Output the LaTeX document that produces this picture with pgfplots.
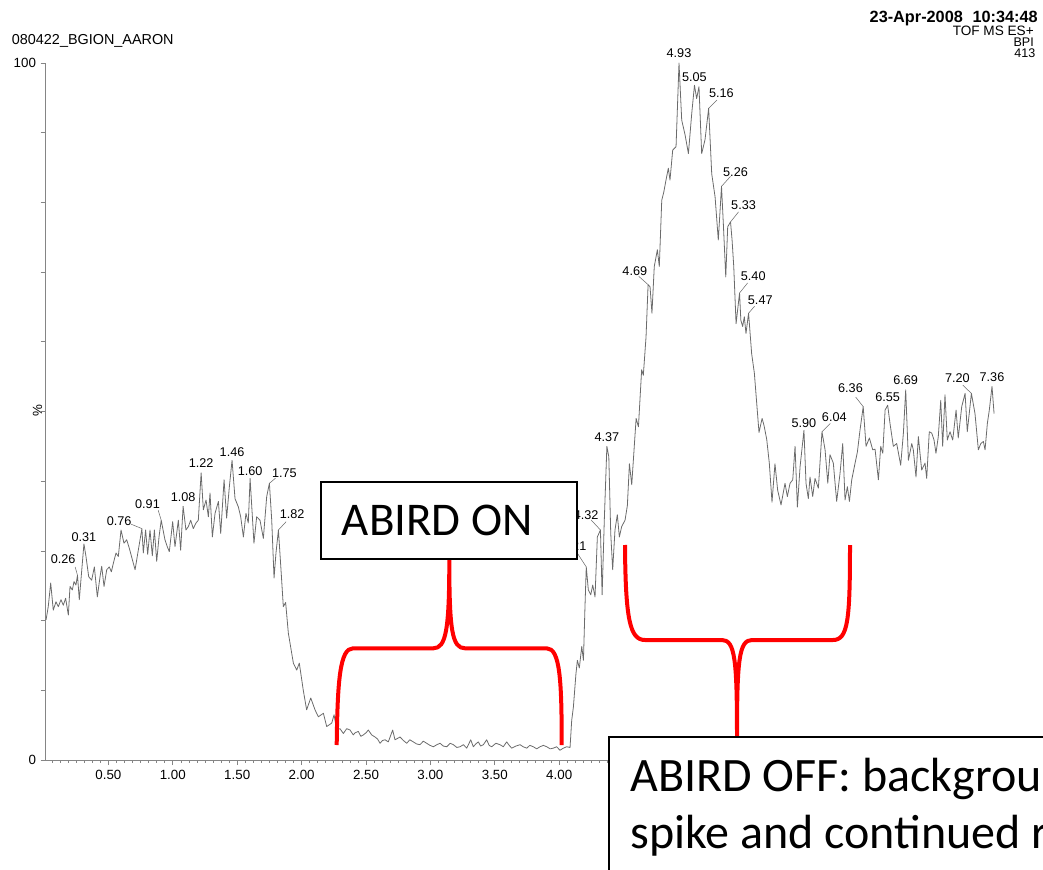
\documentclass[border=0pt]{standalone}
\usepackage{fontspec}
\setmainfont{Liberation Sans}
\newfontfamily\calibri{Carlito}
\usepackage{pgfplots}
\usepackage{pgfplotstable}
\pgfplotsset{compat=1.18}

\definecolor{trace}{gray}{0.42}
\definecolor{axisgray}{gray}{0.52}

% Base peak intensity chromatogram: retention time (min), relative intensity (%)
\pgfplotstableread{
t v
0.016 20.1
0.033 22.0
0.052 25.4
0.072 21.5
0.093 22.7
0.111 22.0
0.132 23.0
0.150 22.2
0.168 23.2
0.189 20.8
0.202 24.9
0.220 24.4
0.233 25.6
0.248 25.1
0.26 26.5
0.274 23.0
0.292 27.0
0.31 31.0
0.326 29.2
0.347 26.3
0.370 25.8
0.391 27.7
0.414 23.4
0.435 26.3
0.448 27.8
0.466 24.9
0.487 27.3
0.507 27.7
0.523 27.0
0.538 28.2
0.559 29.7
0.577 29.2
0.598 33.0
0.621 31.1
0.642 31.6
0.662 30.4
0.707 27.3
0.76 33.2
0.771 29.7
0.789 33.0
0.805 29.5
0.823 33.0
0.841 29.3
0.857 33.0
0.875 28.5
0.893 32.0
0.91 34.4
0.939 31.6
0.957 30.6
0.973 29.9
0.999 34.2
1.017 30.6
1.043 34.4
1.061 30.1
1.08 36.4
1.102 33.0
1.121 33.5
1.139 34.4
1.159 33.2
1.180 34.0
1.198 34.4
1.22 41.2
1.237 35.9
1.258 37.3
1.276 34.9
1.289 38.3
1.307 32.0
1.328 35.4
1.354 37.1
1.372 32.5
1.398 40.2
1.418 34.7
1.439 39.2
1.46 43.0
1.483 37.5
1.509 36.3
1.527 34.9
1.548 32.0
1.568 35.4
1.586 34.0
1.60 40.4
1.630 31.1
1.651 34.9
1.677 34.4
1.703 31.8
1.729 37.8
1.75 39.7
1.768 34.4
1.786 26.1
1.801 29.7
1.82 33.0
1.840 27.3
1.858 22.0
1.876 22.6
1.897 18.2
1.936 13.9
1.962 12.9
1.982 13.9
2.013 10.0
2.039 7.2
2.071 8.9
2.104 7.2
2.130 6.2
2.169 6.7
2.195 4.8
2.234 5.3
2.252 6.5
2.272 4.3
2.298 4.5
2.324 3.8
2.350 4.5
2.376 4.3
2.401 3.6
2.415 3.9
2.440 4.1
2.460 3.4
2.479 3.6
2.500 3.9
2.518 4.3
2.544 3.6
2.570 3.3
2.590 3.0
2.609 2.4
2.628 2.8
2.648 2.9
2.673 2.6
2.707 4.3
2.725 2.9
2.745 3.1
2.764 3.3
2.790 2.8
2.816 2.4
2.840 2.9
2.867 2.6
2.893 2.3
2.919 2.2
2.945 2.7
2.971 2.4
2.997 2.1
3.023 1.9
3.050 2.2
3.075 2.4
3.100 2.0
3.127 1.9
3.153 2.4
3.178 2.2
3.205 1.8
3.230 1.9
3.256 2.2
3.282 1.7
3.313 2.9
3.333 1.9
3.352 2.3
3.372 2.6
3.390 2.0
3.411 2.2
3.437 2.9
3.456 2.1
3.476 1.9
3.508 2.4
3.540 2.2
3.566 1.9
3.592 2.6
3.612 2.1
3.631 1.7
3.664 2.0
3.696 2.2
3.720 1.9
3.748 1.7
3.772 2.1
3.799 1.9
3.825 1.6
3.851 1.9
3.877 2.1
3.903 1.9
3.930 1.6
3.954 1.7
3.980 1.9
4.006 1.4
4.032 1.7
4.058 1.9
4.084 1.8
4.097 5.7
4.110 7.6
4.130 12.4
4.141 14.3
4.156 13.2
4.175 16.3
4.188 14.3
4.200 22.0
4.21 27.7
4.226 24.4
4.245 23.7
4.260 25.1
4.278 23.4
4.296 32.0
4.32 33.0
4.333 23.7
4.350 34.4
4.37 45.0
4.385 43.5
4.400 32.5
4.415 27.3
4.433 33.0
4.451 35.2
4.467 32.0
4.485 33.5
4.511 34.4
4.529 36.5
4.545 42.5
4.563 39.5
4.597 49.0
4.615 47.8
4.640 56.0
4.653 55.2
4.674 60.7
4.69 68.2
4.705 67.9
4.720 64.1
4.738 70.8
4.762 73.2
4.777 70.8
4.796 80.3
4.812 81.5
4.829 83.2
4.847 84.9
4.860 83.2
4.881 87.5
4.907 88.0
4.93 100.0
4.951 91.8
4.977 89.7
5.003 87.0
5.029 92.8
5.05 96.8
5.067 94.9
5.085 96.6
5.106 87.0
5.132 89.0
5.16 93.5
5.184 84.1
5.210 80.8
5.235 74.6
5.26 82.3
5.274 77.0
5.293 69.3
5.308 76.5
5.33 77.2
5.342 74.6
5.355 70.8
5.373 62.6
5.40 67.0
5.410 63.1
5.424 62.2
5.437 63.6
5.450 61.2
5.47 64.1
5.494 58.3
5.515 55.5
5.551 47.0
5.575 49.0
5.590 48.0
5.611 46.0
5.631 42.6
5.652 37.0
5.675 42.5
5.696 38.7
5.722 36.6
5.753 39.7
5.771 37.8
5.792 39.7
5.813 40.2
5.831 45.0
5.849 36.3
5.870 42.1
5.90 47.3
5.916 39.7
5.934 37.5
5.947 40.6
5.968 37.8
5.986 40.4
6.012 39.0
6.04 47.1
6.064 44.5
6.085 39.7
6.102 43.8
6.128 42.6
6.154 37.1
6.180 41.1
6.201 45.4
6.219 37.3
6.237 39.2
6.253 37.1
6.271 40.2
6.297 42.6
6.315 44.2
6.335 47.3
6.36 50.7
6.382 45.0
6.408 46.2
6.434 44.5
6.452 44.6
6.478 40.2
6.496 45.0
6.512 44.0
6.530 50.2
6.55 50.9
6.568 48.3
6.594 45.0
6.620 45.4
6.651 42.3
6.672 46.9
6.69 53.1
6.711 43.0
6.737 45.4
6.749 44.5
6.770 40.6
6.788 46.4
6.814 41.6
6.840 42.6
6.853 40.4
6.873 47.1
6.892 46.9
6.910 45.9
6.925 44.0
6.943 46.4
6.962 51.6
6.977 45.0
6.995 52.4
7.013 45.9
7.034 47.1
7.055 45.9
7.081 50.2
7.098 46.2
7.125 50.7
7.151 52.6
7.168 47.1
7.189 50.7
7.20 52.6
7.228 49.7
7.254 44.5
7.273 45.4
7.293 45.7
7.306 44.5
7.324 48.3
7.339 50.2
7.36 53.6
7.376 49.7
}\bpi

\tikzset{peaklab/.style={font=\fontsize{9.5}{10}\selectfont, inner sep=0pt, text=black}}
% peak label with a short leader: time, intensity, leader dx, dy, label dx, dy (px, y up)
\newcommand{\pkside}[6]{%
  \draw[trace, line width=0.4pt] (axis cs:#1,#2) -- ++(#3*0.75pt,#4*0.75pt);
  \node[peaklab, xshift=#5*0.75pt, yshift=#6*0.75pt] at (axis cs:#1,#2) {#1};}
% peak label straight above the apex
\newcommand{\pktop}[3]{%
  \node[peaklab, yshift=#3*0.75pt] at (axis cs:#1,#2) {#1};}

\begin{document}
\begin{tikzpicture}
\useasboundingbox (0,0) rectangle (782.25pt,651.75pt);
\clip (0,0) rectangle (782.25pt,651.75pt);
\begin{axis}[
  at={(34.275pt,81.75pt)}, anchor=south west,
  scale only axis, width=747.975pt, height=522.75pt,
  xmin=0.0132, xmax=7.756, ymin=0, ymax=100,
  axis x line*=bottom, axis y line*=left,
  axis line style={axisgray, line width=0.6pt},
  tick style={axisgray, line width=0.5pt},
  tick align=outside,
  major tick length=3.75pt, minor tick length=2.2pt,
  xtick={0,0.5,...,7.5}, minor x tick num=7,
  % times past 4.00 sit under the lower call-out box
  xticklabel={\ifdim\tick pt>4.2pt\relax\else\pgfmathprintnumber[fixed, fixed zerofill, precision=2]{\tick}\fi},
  ytick={0,10,...,100}, yticklabels={0,,,,,,,,,,100},
  tick label style={font=\fontsize{10}{12}\selectfont, text=black},
  /pgf/number format/assume math mode=true,
  clip=false,
]
\addplot[trace, line width=0.6pt, mark=none, line join=round] table[x=t, y=v] {\bpi};

\pkside{0.26}{26.5}{-2.3}{8.3}{-14.3}{16}
\pktop{0.31}{31.0}{7}
\pkside{0.76}{33.2}{-11}{4.5}{-22.7}{7.3}
\pkside{0.91}{34.4}{-3}{10}{-13.7}{16}
\pktop{1.08}{36.4}{9}
\pktop{1.22}{41.2}{10}
\pktop{1.46}{43.0}{8}
\pktop{1.60}{40.4}{7}
\pkside{1.75}{39.7}{6}{5}{15}{10}
\pkside{1.82}{33.0}{7.7}{8.3}{13.7}{16}
\pkside{4.21}{27.7}{-8.7}{13.4}{-12.3}{20.5}
\pkside{4.32}{33.0}{-9.3}{10}{-14.3}{15}
\pktop{4.37}{45.0}{9}
\pkside{4.69}{68.2}{-9.3}{8.3}{-13.3}{14}
\pktop{4.93}{100}{10}
\pktop{5.05}{96.8}{8}
\pkside{5.16}{93.5}{8.3}{8.3}{12.7}{15.3}
\pkside{5.26}{82.3}{9}{10}{14}{14.7}
\pkside{5.33}{77.2}{8}{10}{13}{16.7}
\pkside{5.40}{67.0}{8}{10}{13.7}{17.3}
\pkside{5.47}{64.1}{6}{7}{11.7}{13.3}
\pktop{5.90}{47.3}{7}
\pkside{6.04}{47.1}{8.3}{8.3}{12.3}{14.7}
\pkside{6.36}{50.7}{-7.5}{9.5}{-12.7}{18.7}
\pktop{6.55}{50.9}{8}
\pktop{6.69}{53.1}{10}
\pkside{7.20}{52.6}{-8.7}{8.3}{-14}{15.3}
\pktop{7.36}{53.6}{9}
\end{axis}

% header texts, braces and call-out boxes, in pixel units from the top left
\begin{scope}[shift={(0pt,651.75pt)}, x=0.75pt, y=-0.75pt]
\node[anchor=base west, inner sep=0pt, font=\fontsize{10.8}{12}\selectfont] at (11.7,44.3) {080422\_BGION\_AARON};
\node[anchor=base east, inner sep=0pt, font=\fontsize{12.2}{14}\selectfont\bfseries] at (1038,22.5) {23-Apr-2008\hspace{0.6em}10:34:48};
\node[anchor=base east, inner sep=0pt, font=\fontsize{10.2}{12}\selectfont] at (1034,35.2) {TOF MS ES+};
\node[anchor=base east, inner sep=0pt, font=\fontsize{9.4}{12}\selectfont] at (1034,46.6) {BPI};
\node[anchor=base east, inner sep=0pt, font=\fontsize{9.4}{12}\selectfont] at (1035.5,58) {413};
\node[rotate=90, inner sep=0pt, font=\fontsize{10}{12}\selectfont] at (37.5,411) {\%};

\draw[red, line width=3pt, line join=round]
  (336.7,745) .. controls (337.5,680) and (340,648.3) .. (353,648.3)
  -- (433.3,648.3) .. controls (446,648.3) and (449.3,630) .. (449.3,560)
  .. controls (449.3,630) and (452,648.3) .. (465,648.3)
  -- (546.7,648.3) .. controls (560,648.3) and (561.7,680) .. (561.7,745);
\draw[red, line width=3pt, line join=round]
  (625,545) .. controls (625.5,620) and (630,640) .. (645,640)
  -- (722,640) .. controls (735,640) and (737,660) .. (737,737)
  .. controls (737,660) and (739,640) .. (752,640)
  -- (833,640) .. controls (848,640) and (850,620) .. (850,545);

\draw[black, line width=1.25pt, fill=white] (320.7,481.7) rectangle (576.7,559);
\node[anchor=base west, inner sep=0pt, font=\calibri\fontsize{35.2}{42}\selectfont] at (341.7,535) {ABIRD ON};
\draw[black, line width=1.25pt, fill=white] (609,736.7) rectangle (1100,920);
\node[anchor=base west, inner sep=0pt, font=\calibri\fontsize{36}{43}\selectfont] at (630,791.7) {ABIRD OFF: background};
\node[anchor=base west, inner sep=0pt, font=\calibri\fontsize{36}{43}\selectfont] at (630,848) {spike and continued rise};
\end{scope}
\end{tikzpicture}
\end{document}
